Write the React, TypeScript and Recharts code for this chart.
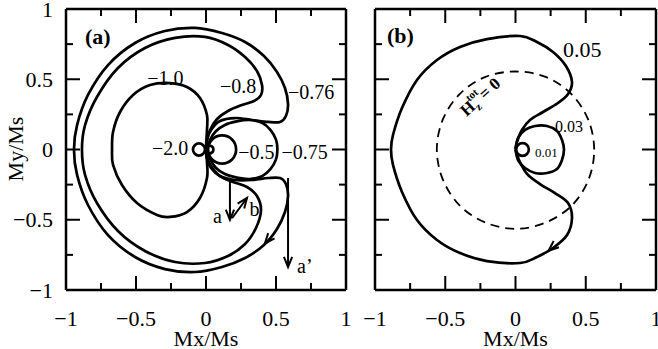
import React from 'react';
import { LineChart, Line, XAxis, YAxis, ReferenceDot, ReferenceLine } from 'recharts';

const FONT = '"Liberation Serif", "Times New Roman", Times, serif';

// ---- axis ticks ----
const axisTicks = [-1, -0.75, -0.5, -0.25, 0, 0.25, 0.5, 0.75, 1];
const majorTicks = [-1, -0.5, 0, 0.5, 1];
const majorTickText = ['\u22121', '\u22120.5', '0', '0.5', '1'];
const xTitle = 'Mx/Ms';
const yTitle = 'My/Ms';

// ---- panel (a) contours ----
const curveA076: [number, number][] = [
  [0, 0], [0.007, 0.068], [0.036, 0.139], [0.1, 0.203], [0.207, 0.224], [0.329, 0.21], [0.443, 0.196],
  [0.529, 0.196], [0.571, 0.238], [0.586, 0.324], [0.564, 0.438], [0.507, 0.552], [0.414, 0.665],
  [0.279, 0.765], [0.114, 0.829], [-0.079, 0.865], [-0.293, 0.843], [-0.507, 0.758], [-0.7, 0.601],
  [-0.843, 0.388], [-0.921, 0.174], [-0.943, 0], [-0.921, -0.181], [-0.843, -0.395], [-0.7, -0.609],
  [-0.507, -0.765], [-0.293, -0.851], [-0.079, -0.872], [0.114, -0.836], [0.279, -0.772], [0.414, -0.68],
  [0.507, -0.566], [0.564, -0.445], [0.586, -0.331], [0.571, -0.246], [0.529, -0.203], [0.443, -0.203],
  [0.329, -0.217], [0.207, -0.217], [0.1, -0.189], [0.036, -0.132], [0.007, -0.06], [0, 0],
];
const curveA08: [number, number][] = [
  [0, 0], [0.007, 0.068], [0.029, 0.139], [0.079, 0.217], [0.157, 0.274], [0.257, 0.317], [0.343, 0.345],
  [0.393, 0.388], [0.4, 0.459], [0.364, 0.559], [0.279, 0.658], [0.157, 0.744], [-0.007, 0.801],
  [-0.221, 0.794], [-0.436, 0.722], [-0.629, 0.58], [-0.779, 0.374], [-0.864, 0.174], [-0.886, 0],
  [-0.864, -0.181], [-0.779, -0.381], [-0.629, -0.58], [-0.436, -0.722], [-0.221, -0.801], [-0.007, -0.808],
  [0.157, -0.758], [0.279, -0.673], [0.357, -0.559], [0.393, -0.431], [0.364, -0.331], [0.293, -0.267],
  [0.193, -0.231], [0.1, -0.189], [0.036, -0.117], [0.007, -0.06], [0, 0],
];
const curveA10: [number, number][] = [
  [0, 0], [0.007, 0.14], [0.007, 0.245], [-0.043, 0.367], [-0.136, 0.445], [-0.257, 0.473], [-0.4, 0.459],
  [-0.521, 0.388], [-0.614, 0.267], [-0.664, 0.125], [-0.671, 0], [-0.664, -0.11], [-0.6, -0.253],
  [-0.493, -0.381], [-0.35, -0.466], [-0.257, -0.48], [-0.136, -0.445], [-0.043, -0.345], [0.007, -0.203],
  [0.007, -0.089],
];
const curveA075: [number, number][] = [
  [0.007, 0], [0.03, 0.07], [0.07, 0.13], [0.135, 0.175], [0.22, 0.2], [0.31, 0.21], [0.4, 0.19],
  [0.46, 0.14], [0.5, 0.07], [0.51, 0], [0.5, -0.07], [0.46, -0.14], [0.4, -0.19], [0.31, -0.21],
  [0.22, -0.2], [0.135, -0.175], [0.07, -0.13], [0.03, -0.07], [0.007, 0],
];
const curveA05: [number, number][] = [
  [0.015, 0], [0.044, 0.071], [0.115, 0.1], [0.186, 0.071], [0.215, 0], [0.186, -0.071], [0.115, -0.1], [0.044, -0.071],
];
const curveA20L: [number, number][] = [
  [-0.007, 0], [-0.02, 0.03], [-0.05, 0.043], [-0.08, 0.03], [-0.093, 0], [-0.08, -0.03], [-0.05, -0.043], [-0.02, -0.03],
];
const curveA20R: [number, number][] = [
  [0.053, 0], [0.045, 0.02], [0.025, 0.028], [0.005, 0.02], [-0.003, 0], [0.005, -0.02], [0.025, -0.028], [0.045, -0.02],
];

// ---- panel (b) contours ----
const curveB005: [number, number][] = [
  [0, 0], [0.01, 0.053], [0.046, 0.139], [0.103, 0.21], [0.196, 0.267], [0.302, 0.331], [0.374, 0.395],
  [0.402, 0.48], [0.359, 0.594], [0.267, 0.694], [0.153, 0.765], [0.032, 0.808], [-0.203, 0.786],
  [-0.395, 0.73], [-0.559, 0.637], [-0.701, 0.495], [-0.808, 0.295], [-0.872, 0.103], [-0.886, 0],
  [-0.872, -0.11], [-0.808, -0.302], [-0.701, -0.502], [-0.559, -0.644], [-0.395, -0.737], [-0.203, -0.794],
  [0.032, -0.808], [0.153, -0.765], [0.267, -0.701], [0.367, -0.609], [0.402, -0.488], [0.374, -0.381],
  [0.281, -0.31], [0.174, -0.246], [0.082, -0.174], [0.025, -0.075], [0, 0],
];
const curveB003: [number, number][] = [
  [0, 0], [0.018, 0.082], [0.068, 0.139], [0.139, 0.167], [0.224, 0.167], [0.295, 0.132], [0.331, 0.068],
  [0.345, 0], [0.331, -0.075], [0.295, -0.139], [0.224, -0.167], [0.139, -0.167], [0.068, -0.132],
  [0.018, -0.075], [0, 0],
];
const curveB001: [number, number][] = [
  [0.005, 0], [0.018, 0.032], [0.05, 0.045], [0.082, 0.032], [0.095, 0], [0.082, -0.032], [0.05, -0.045], [0.018, -0.032],
];
const curveBHz0: [number, number][] = [
  [0.56, 0], [0.517, 0.214], [0.396, 0.396], [0.214, 0.517], [0, 0.555], [-0.214, 0.517], [-0.396, 0.396],
  [-0.517, 0.214], [-0.56, 0], [-0.517, -0.214], [-0.396, -0.4], [-0.214, -0.52], [0, -0.565],
  [0.214, -0.52], [0.4, -0.4], [0.52, -0.214],
];

// ---- arrows: [from, to] ----
const arrowsA: [number, number][][] = [
  [[0.171, -0.203], [0.171, -0.5]],
  [[0.186, -0.488], [0.293, -0.345]],
  [[0.586, -0.203], [0.586, -0.836]],
];
const headsA: [number, number][][] = [[[0.5, -0.575], [0.42, -0.67]]];
const headsB: [number, number][][] = [[[0.367, -0.609], [0.235, -0.72]]];

// ---- labels ----
const labelsA = [
  { t: '\u22121.0', x: -0.42, y: 0.46 },
  { t: '\u22120.8', x: 0.1, y: 0.4 },
  { t: '\u22120.76', x: 0.585, y: 0.36 },
  { t: '\u22122.0', x: -0.386, y: -0.04 },
  { t: '\u22120.5', x: 0.23, y: -0.07 },
  { t: '\u22120.75', x: 0.54, y: -0.07 },
  { t: 'a', x: 0.05, y: -0.52 },
  { t: 'b', x: 0.31, y: -0.47 },
  { t: 'a\u2019', x: 0.65, y: -0.88 },
];
const labelsB = [
  { t: '0.05', x: 0.338, y: 0.658, s: 22 },
  { t: '0.03', x: 0.281, y: 0.125, s: 16 },
  { t: '0.01', x: 0.139, y: -0.053, s: 13 },
];
const panelTagA = { t: '(a)', x: -0.864, y: 0.75 };
const panelTagB = { t: '(b)', x: -0.915, y: 0.76 };
const hzLabel = { x: -0.224, y: 0.345 };

const toPts = (a: [number, number][]) => a.map(([x, y]) => ({ x, y }));

// ---- Catmull-Rom curve factories ----
function makeCatmull(closed: boolean) {
  return (context: any) => {
    let pts: [number, number][] = [];
    return {
      areaStart() {},
      areaEnd() {},
      lineStart() { pts = []; },
      point(x: number, y: number) { pts.push([+x, +y]); },
      lineEnd() {
        const p = pts.slice();
        if (closed && p.length > 2) {
          const a = p[0], b = p[p.length - 1];
          if (Math.hypot(a[0] - b[0], a[1] - b[1]) < 0.5) p.pop();
        }
        const n = p.length;
        if (n === 0) return;
        context.moveTo(p[0][0], p[0][1]);
        if (n === 1) return;
        const get = (i: number) => (closed ? p[(i + n) % n] : p[Math.max(0, Math.min(n - 1, i))]);
        const segs = closed ? n : n - 1;
        for (let i = 0; i < segs; i++) {
          const p0 = get(i - 1), p1 = get(i), p2 = get(i + 1), p3 = get(i + 2);
          context.bezierCurveTo(
            p1[0] + (p2[0] - p0[0]) / 6, p1[1] + (p2[1] - p0[1]) / 6,
            p2[0] - (p3[0] - p1[0]) / 6, p2[1] - (p3[1] - p1[1]) / 6,
            p2[0], p2[1],
          );
        }
        if (closed) context.closePath();
      },
    };
  };
}
const openCurve = makeCatmull(false);
const closedCurve = makeCatmull(true);

const MAJOR = 14;
const MINOR = 7;
const majorIndex = (v: number) => majorTicks.findIndex((m) => Math.abs(m - v) < 1e-9);

const BottomTick = (p: any) => {
  const mi = majorIndex(p.payload.value);
  if (mi < 0) return <g />;
  return (
    <text x={p.x} y={Number(p.y) + 36} textAnchor="middle" fontSize={22} fontFamily={FONT} fill="#000">
      {majorTickText[mi]}
    </text>
  );
};
const LeftTick = (p: any, show: boolean) => {
  const mi = majorIndex(p.payload.value);
  if (!show || mi < 0) return <g />;
  return (
    <text x={Number(p.x) - 13} y={Number(p.y) + 7.5} textAnchor="end" fontSize={22} fontFamily={FONT} fill="#000">
      {majorTickText[mi]}
    </text>
  );
};

// Plot frames of the two panels (page pixels), used only for the inward tick-mark overlay
const frames = [
  { left: 66, top: 9, width: 280, height: 281 },
  { left: 375, top: 9, width: 281, height: 281 },
];

function TickOverlay() {
  const lines: React.ReactElement[] = [];
  frames.forEach((f, k) => {
    axisTicks.forEach((v, i) => {
      const len = majorIndex(v) >= 0 ? MAJOR : MINOR;
      const px = f.left + ((v + 1) / 2) * f.width;
      const py = f.top + ((1 - v) / 2) * f.height;
      const b = f.top + f.height;
      const r = f.left + f.width;
      lines.push(
        <line key={`b${k}_${i}`} x1={px} y1={b} x2={px} y2={b - len} stroke="#000" strokeWidth={2} />,
        <line key={`t${k}_${i}`} x1={px} y1={f.top} x2={px} y2={f.top + len} stroke="#000" strokeWidth={2} />,
        <line key={`l${k}_${i}`} x1={f.left} y1={py} x2={f.left + len} y2={py} stroke="#000" strokeWidth={2} />,
        <line key={`r${k}_${i}`} x1={r} y1={py} x2={r - len} y2={py} stroke="#000" strokeWidth={2} />,
      );
    });
  });
  return (
    <svg
      width={658}
      height={349}
      style={{ position: 'absolute', left: 0, top: 0, pointerEvents: 'none' }}
    >
      {lines}
    </svg>
  );
}

const ArrowHead = ({ cx, cy, angle }: { cx: number; cy: number; angle: number }) => {
  const L = 11;
  const th = (22 * Math.PI) / 180;
  const a1 = angle + Math.PI - th;
  const a2 = angle + Math.PI + th;
  return (
    <path
      d={`M${cx + L * Math.cos(a1)},${cy - L * Math.sin(a1)} L${cx},${cy} L${cx + L * Math.cos(a2)},${cy - L * Math.sin(a2)}`}
      stroke="#000"
      strokeWidth={2}
      fill="none"
    />
  );
};

const frameAxis = { stroke: '#000', strokeWidth: 2.5 };

function renderArrow(a: [number, number][], key: string, shaft: boolean) {
  const [[x1, y1], [x2, y2]] = a;
  const angle = Math.atan2(y2 - y1, x2 - x1);
  return (
    <Line
      key={key}
      data={toPts(a)}
      dataKey="y"
      type="linear"
      stroke={shaft ? '#000' : 'none'}
      strokeWidth={2}
      isAnimationActive={false}
      activeDot={false}
      legendType="none"
      dot={(p: any) =>
        p.index === 1 ? <ArrowHead key={key + 'h'} cx={p.cx} cy={p.cy} angle={angle} /> : <g key={key + 'n' + p.index} />
      }
    />
  );
}

function renderCurve(c: [number, number][], closed: boolean, key: string, dash?: string, sw = 2.7) {
  return (
    <Line
      key={key}
      data={toPts(c)}
      dataKey="y"
      type={(closed ? closedCurve : openCurve) as any}
      stroke="#000"
      strokeWidth={sw}
      strokeDasharray={dash}
      fill="none"
      dot={false}
      activeDot={false}
      isAnimationActive={false}
      legendType="none"
    />
  );
}

function textDot(key: string, x: number, y: number, content: (cx: number, cy: number) => React.ReactElement) {
  return (
    <ReferenceDot
      key={key}
      x={x}
      y={y}
      r={0}
      ifOverflow="visible"
      shape={(p: any) => content(p.cx, p.cy)}
    />
  );
}

function axes(showY: boolean, yWidth: number) {
  return [
    <XAxis
      key="xb"
      dataKey="x"
      type="number"
      domain={[-1, 1]}
      ticks={axisTicks}
      interval={0}
      allowDataOverflow
      height={59}
      tickSize={0}
      tickMargin={0}
      tickLine={false}
      axisLine={frameAxis}
      tick={BottomTick}
      label={(lp: any) => {
        const vb = lp.viewBox;
        return (
          <text x={vb.x + vb.width / 2} y={346} textAnchor="middle" fontSize={22} fontFamily={FONT} fill="#000">
            {xTitle}
          </text>
        );
      }}
    />,
    <YAxis
      key="yl"
      type="number"
      domain={[-1, 1]}
      ticks={axisTicks}
      interval={0}
      allowDataOverflow
      width={yWidth}
      tickSize={0}
      tickMargin={0}
      tickLine={false}
      axisLine={frameAxis}
      tick={(p: any) => LeftTick(p, showY)}
      label={
        showY
          ? () => (
              <text
                x={23}
                y={149}
                transform="rotate(-90, 23, 149)"
                textAnchor="middle"
                fontSize={22}
                fontFamily={FONT}
                fill="#000"
              >
                {yTitle}
              </text>
            )
          : undefined
      }
    />,
    <ReferenceLine key="ft" y={1} stroke="#000" strokeWidth={2.5} ifOverflow="visible" />,
    <ReferenceLine key="fr" x={1} stroke="#000" strokeWidth={2.5} ifOverflow="visible" />,
  ];
}

const plainText = (t: string, size: number, bold = false) => (cx: number, cy: number) => (
  <text x={cx} y={cy} fontSize={size} fontFamily={FONT} fontWeight={bold ? 'bold' : 'normal'} fill="#000">
    {t}
  </text>
);

export default function App() {
  return (
    <div style={{ position: 'absolute', left: 0, top: 0, width: 658, height: 349, background: '#fff' }}>
      <div style={{ position: 'absolute', left: 0, top: 0 }}>
        <LineChart width={352} height={349} margin={{ top: 9, right: 6, bottom: 0, left: 0 }}>
          {axes(true, 66)}
          {renderCurve(curveA076, false, 'c076')}
          {renderCurve(curveA08, false, 'c08')}
          {renderCurve(curveA10, true, 'c10')}
          {renderCurve(curveA075, false, 'c075')}
          {renderCurve(curveA05, true, 'c05')}
          {renderCurve(curveA20L, true, 'c20l')}
          {renderCurve(curveA20R, true, 'c20r')}
          {arrowsA.map((a, i) => renderArrow(a, 'aa' + i, true))}
          {headsA.map((a, i) => renderArrow(a, 'ha' + i, false))}
          {labelsA.map((l, i) => textDot('la' + i, l.x, l.y, plainText(l.t, 20)))}
          {textDot('tagA', panelTagA.x, panelTagA.y, plainText(panelTagA.t, 22, true))}
        </LineChart>
      </div>
      <div style={{ position: 'absolute', left: 346, top: 0 }}>
        <LineChart width={312} height={349} margin={{ top: 9, right: 2, bottom: 0, left: 0 }}>
          {axes(false, 29)}
          {renderCurve(curveBHz0, true, 'hz0', '9 6', 1.8)}
          {renderCurve(curveB005, false, 'b005')}
          {renderCurve(curveB003, false, 'b003')}
          {renderCurve(curveB001, true, 'b001')}
          {headsB.map((a, i) => renderArrow(a, 'hb' + i, false))}
          {labelsB.map((l, i) => textDot('lb' + i, l.x, l.y, plainText(l.t, l.s)))}
          {textDot('tagB', panelTagB.x, panelTagB.y, plainText(panelTagB.t, 22, true))}
          {textDot('hz', hzLabel.x, hzLabel.y, (cx, cy) => (
            <text
              x={cx}
              y={cy}
              transform={`rotate(-42, ${cx}, ${cy})`}
              textAnchor="middle"
              fontFamily={FONT}
              fontWeight="bold"
              fontSize={17}
              fill="#000"
            >
              H
              <tspan fontSize={11} dy={4}>z</tspan>
              <tspan fontSize={11} dx={-6} dy={-13}>tot</tspan>
              <tspan fontSize={17} dy={9}>{'= 0'}</tspan>
            </text>
          ))}
        </LineChart>
      </div>
      <TickOverlay />
    </div>
  );
}
